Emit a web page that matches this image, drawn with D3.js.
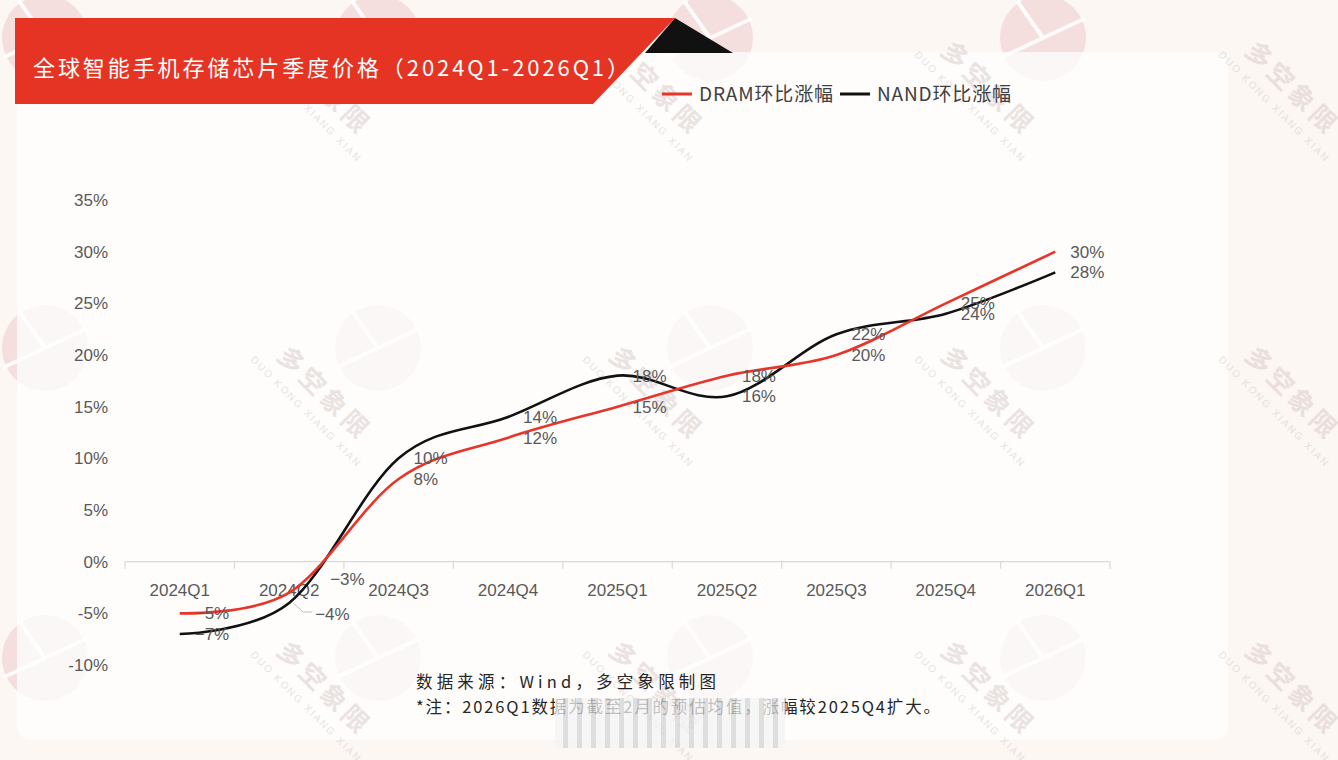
<!DOCTYPE html>
<html>
<head>
<meta charset="utf-8">
<script src="https://cdn.jsdelivr.net/npm/d3@7"></script>
<style>
  html, body { margin: 0; padding: 0; background: #fcf7f2; }
  svg { display: block; }
</style>
</head>
<body>
<div id="chart"></div>
<script>
// Chart data.
const quarters = ["2024Q1", "2024Q2", "2024Q3", "2024Q4", "2025Q1", "2025Q2", "2025Q3", "2025Q4", "2026Q1"];
const dramValues = [-5, -3, 8, 12, 15, 18, 20, 25, 30];
const nandValues = [-7, -4, 10, 14, 18, 16, 22, 24, 28];
const yTicks = [-10, -5, 0, 5, 10, 15, 20, 25, 30, 35];
const seriesNames = ["DRAM环比涨幅", "NAND环比涨幅"];
const titleText = "全球智能手机存储芯片季度价格（2024Q1-2026Q1）";
const sourceText = "数据来源：Wind，多空象限制图";
const noteText = "*注：2026Q1数据为截至2月的预估均值，涨幅较2025Q4扩大。";

const WIDTH = 1338;
const HEIGHT = 760;
const PLOT = { left: 125, right: 1110, top: 200, bottom: 665 };
const COLORS = { dram: "#e8352a", nand: "#111111", label: "#595959", banner: "#e63424" };

const svg = d3.select("#chart").append("svg")
  .attr("width", WIDTH)
  .attr("height", HEIGHT);

// Page background.
svg.append("rect").attr("width", WIDTH).attr("height", HEIGHT).attr("fill", "#fcf7f2");

// Watermark logos (pie shapes) behind the card.
const logoXs = [45, 378, 710, 1043];
const logoYs = [38, 348, 658];
logoYs.forEach(ly => logoXs.forEach(lx => {
  const g = svg.append("g").attr("transform", `translate(${lx},${ly})`);
  g.append("circle").attr("r", 43).attr("fill", "#f1d3d5").attr("opacity", 0.7);
  [-25, 155, 235].forEach(a => {
    const r = a * Math.PI / 180;
    g.append("line").attr("x1", 0).attr("y1", 0)
      .attr("x2", 46 * Math.cos(r)).attr("y2", 46 * Math.sin(r))
      .attr("stroke", "#ffffff").attr("stroke-width", 4).attr("opacity", 0.9);
  });
}));

// White card.
svg.append("rect")
  .attr("x", 17).attr("y", 52).attr("width", 1211).attr("height", 688)
  .attr("rx", 14).attr("fill", "#ffffff").attr("opacity", 0.74);

// Diagonal text watermarks.
const textXs = [318, 650, 982, 1286];
const textYs = [95, 400, 695];
textYs.forEach(ty => textXs.forEach(tx => {
  const g = svg.append("g")
    .attr("transform", `translate(${tx},${ty}) rotate(45)`).attr("opacity", 0.5);
  g.append("text").attr("text-anchor", "middle").attr("y", 0)
    .attr("font-family", "Noto Sans CJK SC").attr("font-weight", 700)
    .attr("font-size", 26).attr("fill", "#d9c8c9").attr("letter-spacing", 4)
    .text("多空象限");
  g.append("text").attr("text-anchor", "middle").attr("y", 20)
    .attr("font-family", "Liberation Sans").attr("font-size", 10)
    .attr("fill", "#d3c8c8").attr("letter-spacing", 2)
    .text("DUO KONG XIANG XIAN");
}));

// Title banner.
svg.append("polygon")
  .attr("points", "645,53 675,18 733,53")
  .attr("fill", "#111111");
svg.append("polygon")
  .attr("points", "15,18 675,18 593,104 15,104")
  .attr("fill", COLORS.banner);
svg.append("text")
  .attr("x", 33).attr("y", 76)
  .attr("font-family", "Noto Sans CJK SC").attr("font-size", 22)
  .attr("fill", "#ffffff")
  .attr("textLength", 596).attr("lengthAdjust", "spacing")
  .text(titleText);

// Scales.
const x = d3.scaleBand().domain(quarters).range([PLOT.left, PLOT.right]);
const y = d3.scaleLinear().domain([-10, 35]).range([PLOT.bottom, PLOT.top]);
const cx = q => x(q) + x.bandwidth() / 2;

// Y axis labels (no axis line).
const yAxis = svg.append("g")
  .attr("transform", `translate(${PLOT.left - 14},0)`)
  .call(d3.axisLeft(y).tickValues(yTicks).tickSize(0).tickFormat(d => d + "%"));
yAxis.select(".domain").remove();
yAxis.selectAll("text")
  .attr("font-family", "Liberation Sans").attr("font-size", 17)
  .attr("fill", COLORS.label).attr("dx", 0);

// X axis at zero.
const xAxis = svg.append("g").attr("transform", `translate(0,${y(0)})`);
xAxis.append("line")
  .attr("x1", PLOT.left).attr("x2", PLOT.right)
  .attr("stroke", "#d9d9d9").attr("stroke-width", 1.2);
xAxis.selectAll("line.tick")
  .data(quarters.concat(["end"]))
  .join("line").attr("class", "tick")
  .attr("x1", (d, i) => i < quarters.length ? x(d) : PLOT.right)
  .attr("x2", (d, i) => i < quarters.length ? x(d) : PLOT.right)
  .attr("y1", 0).attr("y2", 7)
  .attr("stroke", "#d9d9d9").attr("stroke-width", 1.2);
xAxis.selectAll("text")
  .data(quarters)
  .join("text")
  .attr("x", d => cx(d)).attr("y", 34)
  .attr("text-anchor", "middle")
  .attr("font-family", "Liberation Sans").attr("font-size", 17)
  .attr("fill", COLORS.label)
  .text(d => d);

// Lines.
const line = d3.line()
  .x(d => cx(d.q))
  .y(d => y(d.v))
  .curve(d3.curveCardinal.tension(0));

const dramData = quarters.map((q, i) => ({ q: q, v: dramValues[i] }));
const nandData = quarters.map((q, i) => ({ q: q, v: nandValues[i] }));

svg.append("path").datum(nandData)
  .attr("d", line).attr("fill", "none")
  .attr("stroke", COLORS.nand).attr("stroke-width", 2.6);
svg.append("path").datum(dramData)
  .attr("d", line).attr("fill", "none")
  .attr("stroke", COLORS.dram).attr("stroke-width", 2.6);

// Data labels, to the right of each point; 2024Q2 labels were moved out.
const dramShift = quarters.map(q => q === "2024Q2" ? [41, -14] : [15, 0]);
const nandShift = quarters.map(q => q === "2024Q2" ? [26, 11] : [15, 0]);

// leader line for the moved NAND 2024Q2 label
const q2 = quarters[1];
svg.append("path")
  .attr("d", `M${cx(q2) + 4},${y(nandValues[1])} L${cx(q2) + 14},${y(nandValues[1]) + 9} L${cx(q2) + 23},${y(nandValues[1]) + 9}`)
  .attr("fill", "none").attr("stroke", "#bfbfbf").attr("stroke-width", 1);

function addLabels (data, shift) {
  svg.append("g").selectAll("text")
    .data(data)
    .join("text")
    .attr("x", (d, i) => cx(d.q) + shift[i][0])
    .attr("y", (d, i) => y(d.v) + shift[i][1])
    .attr("dy", "0.35em")
    .attr("font-family", "Liberation Sans").attr("font-size", 17)
    .attr("fill", COLORS.label)
    .text(d => (d.v < 0 ? "−" + Math.abs(d.v) : d.v) + "%");
}
addLabels(dramData, dramShift);
addLabels(nandData, nandShift);

// Legend.
const legend = svg.append("g").attr("transform", "translate(662,94)");
const legendX = [0, 178];
[COLORS.dram, COLORS.nand].forEach((c, i) => {
  legend.append("line")
    .attr("x1", legendX[i]).attr("x2", legendX[i] + 30)
    .attr("stroke", c).attr("stroke-width", 3);
  legend.append("text")
    .attr("x", legendX[i] + 37).attr("y", 0).attr("dy", "0.36em")
    .attr("font-family", "Noto Sans CJK SC").attr("font-size", 19)
    .attr("fill", "#404040")
    .attr("textLength", 134).attr("lengthAdjust", "spacing")
    .text(seriesNames[i]);
});

// Source and note.
svg.append("text")
  .attr("x", 416).attr("y", 688)
  .attr("font-family", "Noto Sans CJK SC").attr("font-size", 16.5)
  .attr("fill", "#262626")
  .attr("textLength", 300).attr("lengthAdjust", "spacing")
  .text(sourceText);
svg.append("text")
  .attr("x", 416).attr("y", 713)
  .attr("font-family", "Noto Sans CJK SC").attr("font-size", 16.5)
  .attr("fill", "#262626")
  .attr("textLength", 524).attr("lengthAdjust", "spacing")
  .text(noteText);

// Blurred strip over the note, as in the reference.
const defs = svg.append("defs");
const pat = defs.append("pattern").attr("id", "stripes")
  .attr("width", 14).attr("height", 10).attr("patternUnits", "userSpaceOnUse");
pat.append("rect").attr("width", 14).attr("height", 10).attr("fill", "#f4f4f4");
pat.append("rect").attr("x", 3).attr("width", 5).attr("height", 10).attr("fill", "#d4d4d4");
svg.append("rect")
  .attr("x", 555).attr("y", 698).attr("width", 230).attr("height", 50)
  .attr("fill", "url(#stripes)").attr("opacity", 0.75);
</script>
</body>
</html>
